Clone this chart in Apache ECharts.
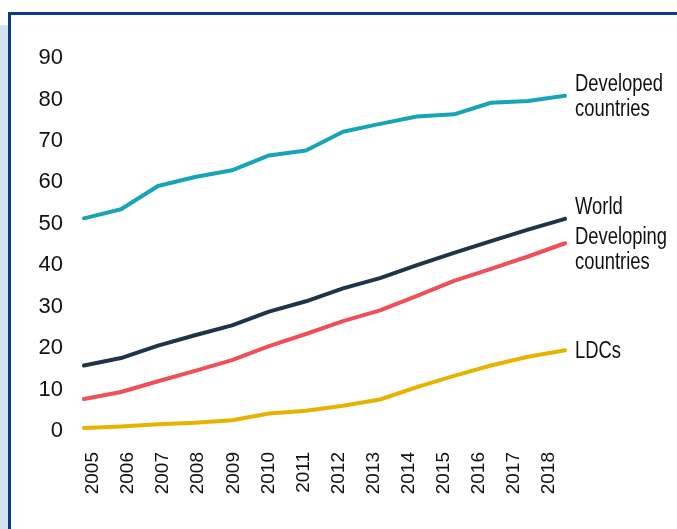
<!DOCTYPE html>
<html>
<head>
<meta charset="utf-8">
<script src="https://cdn.jsdelivr.net/npm/echarts@6/dist/echarts.min.js"></script>
<style>
  html, body { margin: 0; padding: 0; background: #ffffff; }
  #chart { width: 677px; height: 529px; }
</style>
</head>
<body>
<div id="chart"></div>
<script>
// Internet users per 100 inhabitants, 2005-2018
const years = ['2005','2006','2007','2008','2009','2010','2011','2012','2013','2014','2015','2016','2017','2018'];
const developed  = [51.3, 53.5, 59.1, 61.3, 62.9, 66.5, 67.7, 72.2, 74.1, 75.9, 76.4, 79.2, 79.6, 80.9];
const world      = [15.8, 17.6, 20.6, 23.1, 25.5, 28.8, 31.3, 34.4, 36.9, 40.0, 43.0, 45.8, 48.6, 51.2];
const developing = [7.7, 9.4, 12.0, 14.5, 17.1, 20.5, 23.4, 26.5, 29.1, 32.6, 36.2, 39.1, 42.1, 45.3];
const ldcs       = [0.7, 1.1, 1.6, 2.0, 2.6, 4.2, 4.9, 6.1, 7.6, 10.6, 13.3, 15.8, 17.9, 19.5];
const yTicks = [0, 10, 20, 30, 40, 50, 60, 70, 80, 90];

const seriesDefs = [
  { name: 'Developed countries',  label: 'Developed\ncountries',  data: developed,  color: '#17a3b8', dy: 1 },
  { name: 'World',                label: 'World',                 data: world,      color: '#1f3449', dy: -11 },
  { name: 'Developing countries', label: 'Developing\ncountries', data: developing, color: '#ef4f58', dy: 7 },
  { name: 'LDCs',                 label: 'LDCs',                  data: ldcs,       color: '#e7b200', dy: 1 }
];

const FONT = '"Liberation Sans", Arial, sans-serif';
const INK = '#111111';

// page frame
const frame = [
  { type: 'rect', silent: true, shape: { x: 0, y: 25, width: 8, height: 504 }, style: { fill: '#d3e3ee' }, z: 0 },
  { type: 'rect', silent: true, shape: { x: 8, y: 12, width: 669, height: 3 }, style: { fill: '#0b3a8c' }, z: 1 },
  { type: 'rect', silent: true, shape: { x: 8, y: 12, width: 3, height: 517 }, style: { fill: '#0b3a8c' }, z: 1 }
];

const chart = echarts.init(document.getElementById('chart'), null, { renderer: 'canvas' });
chart.setOption({
  animation: false,
  backgroundColor: '#ffffff',
  graphic: frame,
  grid: [
    // plotting area
    { left: 84, right: 112, top: 58, bottom: 98 },
    // year labels row
    { left: 93, right: 128, top: 58, bottom: 98 }
  ],
  xAxis: [
    {
      type: 'category', gridIndex: 0, data: years, boundaryGap: false,
      axisLine: { show: false }, axisTick: { show: false },
      axisLabel: { show: false }, splitLine: { show: false }
    },
    {
      type: 'category', gridIndex: 1, data: years, boundaryGap: false,
      axisLine: { show: false }, axisTick: { show: false }, splitLine: { show: false },
      axisLabel: {
        rotate: 90, margin: 21, interval: 0,
        color: INK, fontFamily: FONT, fontSize: 19
      }
    }
  ],
  yAxis: [
    {
      type: 'value', gridIndex: 0,
      min: yTicks[0], max: yTicks[yTicks.length - 1], interval: 10,
      axisLine: { show: false }, axisTick: { show: false }, splitLine: { show: false },
      axisLabel: { margin: 21, color: INK, fontFamily: FONT, fontSize: 22 }
    },
    {
      type: 'value', gridIndex: 1, min: 0, max: 90, show: false
    }
  ],
  series: seriesDefs.map(s => ({
    name: s.name,
    type: 'line',
    xAxisIndex: 0,
    yAxisIndex: 0,
    data: s.data,
    symbol: 'none',
    lineStyle: { color: s.color, width: 4, cap: 'round', join: 'round' },
    itemStyle: { color: s.color },
    emphasis: { disabled: true }
  }))
});

// series names set in a condensed face just right of each line's last point
const last = years.length - 1;
const endLabels = seriesDefs.map(s => {
  const p = chart.convertToPixel({ gridIndex: 0 }, [years[last], s.data[last]]);
  return {
    type: 'text',
    silent: true,
    x: p[0] + 10,
    y: p[1] + s.dy,
    scaleX: 0.8,
    z: 10,
    style: {
      text: s.label,
      fill: INK,
      font: '23px ' + FONT,
      lineHeight: 25,
      align: 'left',
      verticalAlign: 'middle'
    }
  };
});
chart.setOption({ graphic: frame.concat(endLabels) });
</script>
</body>
</html>
